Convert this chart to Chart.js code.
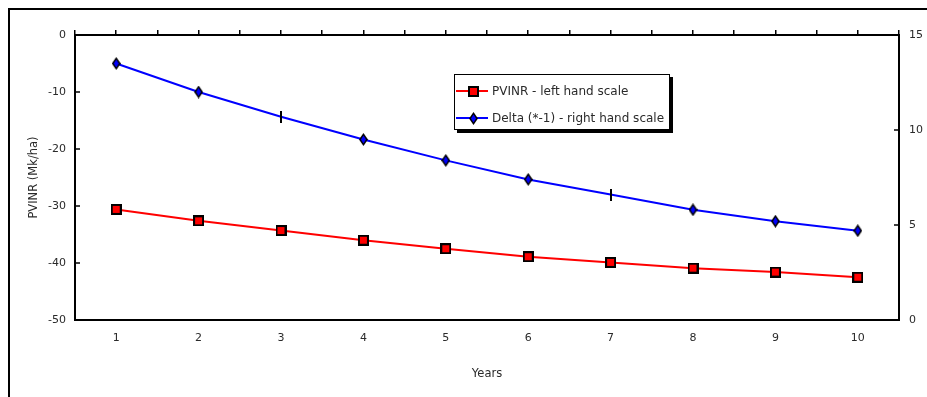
<!DOCTYPE html>
<html>
<head>
<meta charset="utf-8">
<script src="https://cdn.jsdelivr.net/npm/chart.js@4/dist/chart.umd.min.js"></script>
<style>
  html, body { margin: 0; padding: 0; background: #fff; }
  #wrap { width: 927px; height: 397px; position: relative; }
</style>
</head>
<body>
<div id="wrap"><canvas id="c"></canvas></div>
<script>
// Years on the horizontal axis
const years = ['1', '2', '3', '4', '5', '6', '7', '8', '9', '10'];
// PVINR (Mk/ha), plotted against the left hand scale
const pvinr = [-30.6, -32.6, -34.3, -36.0, -37.5, -38.9, -39.9, -40.9, -41.6, -42.5];
// Delta multiplied by -1, plotted against the right hand scale
const deltaNeg = [13.5, 12.0, 10.7, 9.5, 8.4, 7.4, 6.6, 5.8, 5.2, 4.7];
// Axis ranges and steps
const leftRange = [-50, 0];
const leftStep = 10;
const rightRange = [0, 15];
const rightStep = 5;

const seriesNames = ['PVINR - left hand scale', 'Delta (*-1) - right hand scale'];

const FONT = '"DejaVu Sans", Verdana, sans-serif';
const INK = '#2a2a2a';

// marker images
function squareMarker() {
  const c = document.createElement('canvas');
  c.width = 11; c.height = 11;
  const g = c.getContext('2d');
  g.fillStyle = '#000'; g.fillRect(0, 0, 11, 11);
  g.fillStyle = '#ff0000'; g.fillRect(2, 2, 7, 7);
  return c;
}
function diamondMarker() {
  const c = document.createElement('canvas');
  c.width = 9; c.height = 13;
  const g = c.getContext('2d');
  g.fillStyle = '#000';
  g.beginPath(); g.moveTo(4.5, 0); g.lineTo(9, 6.5); g.lineTo(4.5, 13); g.lineTo(0, 6.5); g.closePath(); g.fill();
  g.fillStyle = '#0000ff';
  g.beginPath(); g.moveTo(4.5, 2.6); g.lineTo(7, 6.5); g.lineTo(4.5, 10.4); g.lineTo(2, 6.5); g.closePath(); g.fill();
  return c;
}
function barMarker() {
  const c = document.createElement('canvas');
  c.width = 2; c.height = 12;
  const g = c.getContext('2d');
  g.fillStyle = '#000'; g.fillRect(0, 0, 2, 12);
  return c;
}
const sq = squareMarker();
const dm = diamondMarker();
const bm = barMarker();
const blueStyles = years.map((y, i) => (i === 2 || i === 6) ? bm : dm);

// frame, inward ticks on the value axes, and the boxed legend
const decor = {
  id: 'decor',
  afterDraw(chart) {
    const ctx = chart.ctx;
    const a = chart.chartArea;
    ctx.save();
    ctx.strokeStyle = '#000';
    ctx.lineWidth = 2;
    ctx.beginPath();
    ctx.moveTo(9, chart.height);
    ctx.lineTo(9, 9);
    ctx.lineTo(chart.width, 9);
    ctx.stroke();

    ctx.lineWidth = 1.5;
    const yl = chart.scales.y, yr = chart.scales.y1;
    ctx.beginPath();
    yl.ticks.forEach(t => {
      const p = Math.round(yl.getPixelForValue(t.value));
      if (p <= a.top + 1 || p >= a.bottom - 1) return;
      ctx.moveTo(a.left, p); ctx.lineTo(a.left + 5, p);
    });
    yr.ticks.forEach(t => {
      const p = Math.round(yr.getPixelForValue(t.value));
      if (p <= a.top + 1 || p >= a.bottom - 1) return;
      ctx.moveTo(a.right, p); ctx.lineTo(a.right - 5, p);
    });
    ctx.stroke();

    // legend
    const bx = a.left + 379, by = a.top + 39, bw = 216, bh = 56;
    ctx.fillStyle = '#000';
    ctx.fillRect(bx + 3, by + 3, bw, bh);
    ctx.fillStyle = '#fff';
    ctx.fillRect(bx, by, bw, bh);
    ctx.lineWidth = 1;
    ctx.strokeStyle = '#000';
    ctx.strokeRect(bx + 0.5, by + 0.5, bw - 1, bh - 1);

    const markers = [sq, dm];
    chart.data.datasets.forEach((ds, i) => {
      const ry = by + 17 + i * 27;
      ctx.strokeStyle = ds.borderColor;
      ctx.lineWidth = 2;
      ctx.beginPath();
      ctx.moveTo(bx + 2, ry); ctx.lineTo(bx + 34, ry);
      ctx.stroke();
      const m = markers[i];
      ctx.drawImage(m, Math.round(bx + 19 - m.width / 2), Math.round(ry - m.height / 2));
      ctx.fillStyle = INK;
      ctx.font = '12px ' + FONT;
      ctx.textBaseline = 'middle';
      ctx.textAlign = 'left';
      ctx.fillText(ds.label, bx + 38, ry + 1);
    });
    ctx.restore();
  }
};

new Chart(document.getElementById('c'), {
  type: 'line',
  data: {
    labels: years,
    datasets: [
      {
        label: seriesNames[0],
        data: pvinr,
        yAxisID: 'y',
        borderColor: '#ff0000',
        borderWidth: 2,
        pointStyle: sq,
        pointRadius: 5,
        tension: 0,
        fill: false
      },
      {
        label: seriesNames[1],
        data: deltaNeg,
        yAxisID: 'y1',
        borderColor: '#0000ff',
        borderWidth: 2,
        pointStyle: blueStyles,
        pointRadius: 5,
        tension: 0,
        fill: false
      }
    ]
  },
  options: {
    responsive: true,
    maintainAspectRatio: false,
    animation: false,
    devicePixelRatio: 1,
    layout: { padding: 0 },
    plugins: {
      legend: { display: false },
      tooltip: { enabled: false },
      title: { display: false }
    },
    scales: {
      x: {
        type: 'category',
        position: 'bottom',
        offset: true,
        grid: { display: false, drawTicks: false },
        border: { display: true, color: '#000', width: 2 },
        ticks: { color: INK, font: { family: FONT, size: 11 }, padding: 12, maxRotation: 0, autoSkip: false },
        title: { display: true, text: 'Years', color: INK, font: { family: FONT, size: 11.5 }, padding: { top: 0, bottom: 16 } },
        afterFit(s) { s.height = 77; }
      },
      x2: {
        type: 'linear',
        position: 'top',
        min: -0.5,
        max: years.length - 0.5,
        grid: { display: true, drawOnChartArea: false, drawTicks: true, tickLength: 5, color: '#000', lineWidth: 1.5 },
        border: { display: true, color: '#000', width: 2 },
        ticks: { display: false, stepSize: 0.5, autoSkip: false, maxTicksLimit: 100 },
        afterFit(s) { s.height = 35; }
      },
      y: {
        type: 'linear',
        position: 'left',
        min: leftRange[0],
        max: leftRange[1],
        grid: { display: false, drawTicks: false },
        border: { display: true, color: '#000', width: 2 },
        ticks: { stepSize: leftStep, color: INK, font: { family: FONT, size: 11 }, padding: 9 },
        title: { display: true, text: 'PVINR (Mk/ha)', color: INK, font: { family: FONT, size: 11.5 }, padding: { top: 27, bottom: 0 } },
        afterFit(s) { s.width = 75; }
      },
      y1: {
        type: 'linear',
        position: 'right',
        min: rightRange[0],
        max: rightRange[1],
        grid: { display: false, drawTicks: false },
        border: { display: true, color: '#000', width: 2 },
        ticks: { stepSize: rightStep, color: INK, font: { family: FONT, size: 11 }, padding: 10 },
        afterFit(s) { s.width = 28; }
      }
    }
  },
  plugins: [decor]
});
</script>
</body>
</html>
